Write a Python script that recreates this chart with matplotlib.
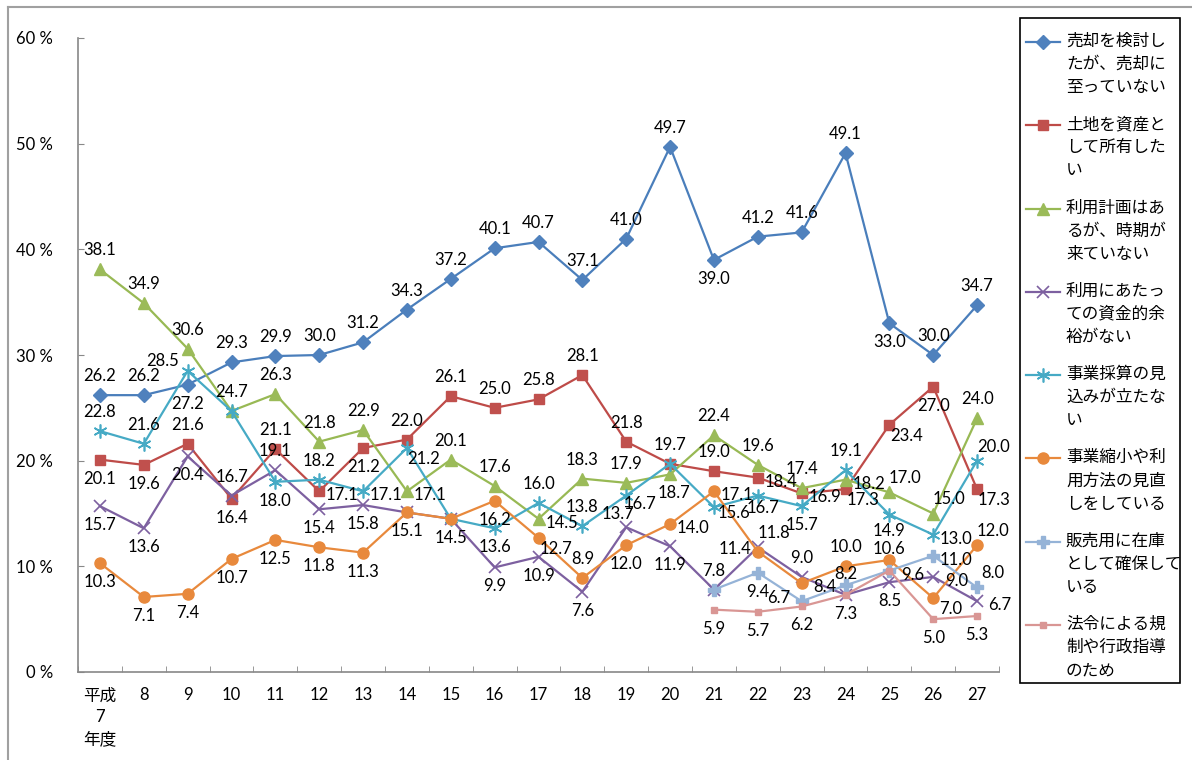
import numpy as np
import matplotlib as mpl
mpl.use('Agg')
import matplotlib.pyplot as plt
from matplotlib.lines import Line2D
from matplotlib.patches import Rectangle

plt.rcParams['font.family'] = ['Lato', 'Noto Sans CJK JP', 'DejaVu Sans']

nan = np.nan
years = ['平成\n7\n年度'] + [str(y) for y in range(8, 28)]

sell = [26.2, 26.2, 27.2, 29.3, 29.9, 30.0, 31.2, 34.3, 37.2, 40.1, 40.7,
        37.1, 41.0, 49.7, 39.0, 41.2, 41.6, 49.1, 33.0, 30.0, 34.7]
asset = [20.1, 19.6, 21.6, 16.4, 21.1, 17.1, 21.2, 22.0, 26.1, 25.0, 25.8,
         28.1, 21.8, 19.7, 19.0, 18.4, 16.9, 17.3, 23.4, 27.0, 17.3]
plan = [38.1, 34.9, 30.6, 24.7, 26.3, 21.8, 22.9, 17.1, 20.1, 17.6, 14.5,
        18.3, 17.9, 18.7, 22.4, 19.6, 17.4, 18.2, 17.0, 15.0, 24.0]
funds = [15.7, 13.6, 20.4, 16.7, 19.1, 15.4, 15.8, 15.1, 14.5, 9.9, 10.9,
         7.6, 13.7, 11.9, 7.8, 11.8, 9.0, 7.3, 8.5, 9.0, 6.7]
profit = [22.8, 21.6, 28.5, 24.7, 18.0, 18.2, 17.1, 21.2, 14.5, 13.6, 16.0,
          13.8, 16.7, 19.7, 15.6, 16.7, 15.7, 19.1, 14.9, 13.0, 20.0]
review = [10.3, 7.1, 7.4, 10.7, 12.5, 11.8, 11.3, 15.1, 14.5, 16.2, 12.7,
          8.9, 12.0, 14.0, 17.1, 11.4, 8.4, 10.0, 10.6, 7.0, 12.0]
stock = [nan] * 14 + [7.8, 9.4, 6.7, 8.2, 9.6, 11.0, 8.0]
law = [nan] * 14 + [5.9, 5.7, 6.2, 7.3, 9.6, 5.0, 5.3]

names = ['売却を検討し\nたが、売却に\n至っていない',
         '土地を資産と\nして所有した\nい',
         '利用計画はあ\nるが、時期が\n来ていない',
         '利用にあたっ\nての資金的余\n裕がない',
         '事業採算の見\n込みが立たな\nい',
         '事業縮小や利\n用方法の見直\nしをしている',
         '販売用に在庫\nとして確保して\nいる',
         '法令による規\n制や行政指導\nのため']

# where each value label sits relative to its point
spots = [
    'a a b a a a a a a a a a a a b a a a b a a'.split(),
    'b b a b a r b a a a a a a a a r r br br b br'.split(),
    'a a a a a a a r a a r a a b3 a a a r ar ar a'.split(),
    'b b b a a b b - - b b b a3 b a ar a b b r r'.split(),
    'a a l2 - b a r br - b a a r2 - r3 b4 b a b2 r ar'.split(),
    'b b b b b b b b b b br a b r r l r a a2 br ar'.split(),
    '- - - - - - - - - - - - - - - b l a2 r r ar'.split(),
    '- - - - - - - - - - - - - - b b b - - b b'.split(),
]
offs = {'a': (0, 19), 'b': (0, -19), 'r': (23, -4), 'l': (-23, 3),
        'ar': (16, 14), 'br': (17, -11), 'a2': (0, 11), 'b2': (0, -16),
        'a3': (-8, 13), 'l2': (-25, 10), 'r2': (14, -8), 'b3': (4, -19),
        'r3': (20, -6), 'b4': (5, -12)}

styles = [
    dict(color='#4A7EBB', marker='D', ms=7, mfc='#4F81BD', mec='#4F81BD'),
    dict(color='#BE4B48', marker='s', ms=7, mfc='#C0504D', mec='#C0504D'),
    dict(color='#98B954', marker='^', ms=9, mfc='#9BBB59', mec='#9BBB59'),
    dict(color='#7D60A0', marker='x', ms=8, mew=1.2),
    dict(color='#46AAC5', marker=(6, 2, 0), ms=10, mew=1.2),
    dict(color='#E8893C', marker='o', ms=8, mfc='#E8893C', mec='#E8893C'),
    dict(color='#95B3D7', marker='P', ms=9, mfc='#95B3D7', mec='#95B3D7'),
    dict(color='#D99694', marker='s', ms=4, mfc='#D99694', mec='#D99694'),
]

series = [sell, asset, plan, funds, profit, review, stock, law]

W, H = 1192, 760
fig = plt.figure(figsize=(W / 100, H / 100), dpi=100)
ax = fig.add_axes([78 / W, 88 / H, 921 / W, 634 / H])

x = np.arange(len(years))
for vals, name, st, sp in zip(series, names, styles, spots):
    ax.plot(x, vals, lw=1.6, label=name, **st)
    for xi, v, code in zip(x, vals, sp):
        if code == '-' or np.isnan(v):
            continue
        dx, dy = offs[code]
        ax.annotate(f'{v:.1f}', (xi, v), xytext=(dx, dy), textcoords='offset pixels',
                    ha='center', va='center', fontsize=12, color='black')

ax.set_xlim(-0.5, len(years) - 0.5)
ax.set_ylim(0, 60)
ax.set_yticks(range(0, 61, 10))
ax.set_yticklabels([f'{v} %' for v in range(0, 61, 10)])
ax.set_xticks(x)
ax.set_xticklabels(years, linespacing=1.45)
ax.set_xticks(np.arange(-0.5, len(years), 1), minor=True)
ax.tick_params(axis='x', which='major', length=0, pad=11, labelsize=12)
ax.tick_params(axis='x', which='minor', direction='in', length=4, color='#888888')
ax.tick_params(axis='y', direction='in', length=4, color='#888888', pad=18, labelsize=12)
for s in ['top', 'right']:
    ax.spines[s].set_visible(False)
for s in ['left', 'bottom']:
    ax.spines[s].set_color('#888888')
    ax.spines[s].set_linewidth(1.2)

# legend drawn by hand: the handle sits on the first line of each wrapped name
fig.add_artist(Rectangle((1020 / W, 1 - 683 / H), 160 / W, 665 / H, transform=fig.transFigure,
                         fill=False, edgecolor='black', lw=1.2))
for i, (name, st) in enumerate(zip(names, styles)):
    top = 42 + i * 83.3
    yy = 1 - top / H
    fig.add_artist(Line2D([1026 / W, 1043 / W, 1060 / W], [yy, yy, yy], lw=1.6,
                          markevery=[1], transform=fig.transFigure, **st))
    fig.text(1066 / W, 1 - (top + 22) / H, name, fontsize=12, linespacing=1.55,
             va='center', ha='left')

# outer frame of the original sheet
fig.add_artist(Line2D([8 / W, 1], [1 - 7 / H, 1 - 7 / H], color='#A0A0A0', lw=1.5))
fig.add_artist(Line2D([8 / W, 8 / W], [0, 1 - 7 / H], color='#A0A0A0', lw=1.5))

plt.savefig('out.png', dpi=100)
